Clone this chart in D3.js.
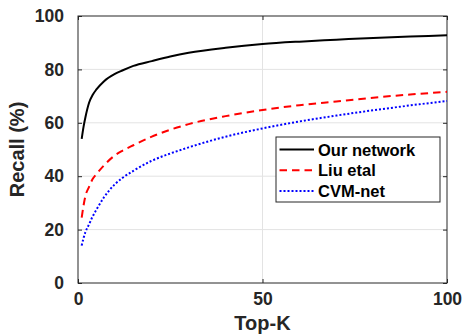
<!DOCTYPE html>
<html>
<head>
<meta charset="utf-8">
<script src="https://cdn.jsdelivr.net/npm/d3@7"></script>
<style>
  body { margin: 0; background: #fff; }
  text { font-family: "Liberation Sans", Arial, Helvetica, sans-serif; font-weight: bold; fill: #262626; }
</style>
</head>
<body>
<svg width="463" height="335"></svg>
<script>
var topK = [1, 1.5, 2, 3, 4, 5, 7, 10, 12, 15, 20, 25, 30, 40, 50, 60, 70, 80, 90, 100];
var ourNetwork = [54, 58.5, 62, 67.5, 70.5, 72.5, 75.5, 78.3, 79.6, 81.3, 83.1, 84.8, 86.2, 88.1, 89.5, 90.4, 91.1, 91.8, 92.3, 92.8];
var liuEtal = [24.5, 29, 32.5, 36, 39, 40.8, 44, 47.8, 49.5, 51.6, 54.8, 57.4, 59.5, 62.5, 64.8, 66.6, 68, 69.4, 70.6, 71.6];
var cvmNet = [14, 16.8, 19, 22, 25, 27.5, 32, 37, 39.3, 42, 45.8, 48.5, 50.8, 54.8, 57.9, 60.5, 62.7, 64.7, 66.5, 68.2];
var seriesNames = ["Our network", "Liu etal", "CVM-net"];
var xTicks = [0, 50, 100];
var yTicks = [0, 20, 40, 60, 80, 100];

var svg = d3.select("svg"),
    margin = {top: 16, right: 16, bottom: 52, left: 78},
    width = 463 - margin.left - margin.right,
    height = 335 - margin.top - margin.bottom;

var x = d3.scaleLinear().domain([0, 100]).range([0, width]);
var y = d3.scaleLinear().domain([0, 100]).range([height, 0]);

var g = svg.append("g")
    .attr("transform", "translate(" + margin.left + "," + margin.top + ")");

// grid
g.append("g").selectAll("line").data(yTicks.slice(1, -1)).enter().append("line")
    .attr("x1", 0).attr("x2", width)
    .attr("y1", function(d) { return y(d); }).attr("y2", function(d) { return y(d); })
    .attr("stroke", "#e3e3e3").attr("stroke-width", 1);
g.append("g").selectAll("line").data(xTicks.slice(1, -1)).enter().append("line")
    .attr("y1", 0).attr("y2", height)
    .attr("x1", function(d) { return x(d); }).attr("x2", function(d) { return x(d); })
    .attr("stroke", "#e3e3e3").attr("stroke-width", 1);

// axes (ticks inward)
var tickLen = 4;
g.append("g")
    .attr("transform", "translate(0," + height + ")")
    .call(d3.axisBottom(x).tickValues(xTicks).tickSizeInner(-tickLen).tickSizeOuter(0).tickPadding(10))
    .call(function(a) { a.select(".domain").remove(); a.selectAll("text").style("font-size", "17.5px"); });
g.append("g")
    .call(d3.axisLeft(y).tickValues(yTicks).tickSizeInner(-tickLen).tickSizeOuter(0).tickPadding(14))
    .call(function(a) { a.select(".domain").remove(); a.selectAll("text").style("font-size", "17.5px"); });
g.append("g")
    .attr("transform", "translate(" + width + ",0)")
    .call(d3.axisRight(y).tickValues(yTicks).tickSizeInner(-tickLen).tickSizeOuter(0).tickFormat(""))
    .call(function(a) { a.select(".domain").remove(); });
g.append("g")
    .call(d3.axisTop(x).tickValues(xTicks).tickSizeInner(-tickLen).tickSizeOuter(0).tickFormat(""))
    .call(function(a) { a.select(".domain").remove(); });
g.selectAll(".tick line").attr("stroke", "#262626");

g.append("rect")
    .attr("width", width).attr("height", height)
    .attr("fill", "none").attr("stroke", "#262626").attr("stroke-width", 1);

// lines
var series = [
  {name: seriesNames[0], values: ourNetwork, color: "#000000", dash: null},
  {name: seriesNames[1], values: liuEtal, color: "#ff0000", dash: "7.5,5"},
  {name: seriesNames[2], values: cvmNet, color: "#0000ff", dash: "2,2"}
];

var line = d3.line()
    .curve(d3.curveMonotoneX)
    .x(function(d) { return x(d[0]); })
    .y(function(d) { return y(d[1]); });

g.selectAll(".series").data(series).enter().append("path")
    .attr("class", "series")
    .attr("d", function(s) { return line(topK.map(function(k, i) { return [k, s.values[i]]; })); })
    .attr("fill", "none")
    .attr("stroke", function(s) { return s.color; })
    .attr("stroke-width", 2)
    .attr("stroke-dasharray", function(s) { return s.dash; });

// axis titles
svg.append("text")
    .attr("x", margin.left + width / 2).attr("y", 330)
    .attr("text-anchor", "middle")
    .style("font-size", "20px")
    .text("Top-K");
svg.append("text")
    .attr("transform", "translate(24," + (margin.top + height / 2) + ") rotate(-90)")
    .attr("text-anchor", "middle")
    .style("font-size", "20px")
    .text("Recall (%)");

// legend
var legend = svg.append("g").attr("transform", "translate(276,137)");
legend.append("rect")
    .attr("width", 164).attr("height", 65)
    .attr("fill", "#fff").attr("stroke", "#262626").attr("stroke-width", 1);
var item = legend.selectAll(".item").data(series).enter().append("g")
    .attr("transform", function(d, i) { return "translate(0," + (12.5 + i * 20.7) + ")"; });
item.append("line")
    .attr("x1", 3.5).attr("x2", 38)
    .attr("stroke", function(s) { return s.color; })
    .attr("stroke-width", 2)
    .attr("stroke-dasharray", function(s) { return s.dash; });
item.append("text")
    .attr("x", 42).attr("y", 6)
    .style("font-size", "16.5px")
    .style("fill", "#000")
    .text(function(s) { return s.name; });
</script>
</body>
</html>
